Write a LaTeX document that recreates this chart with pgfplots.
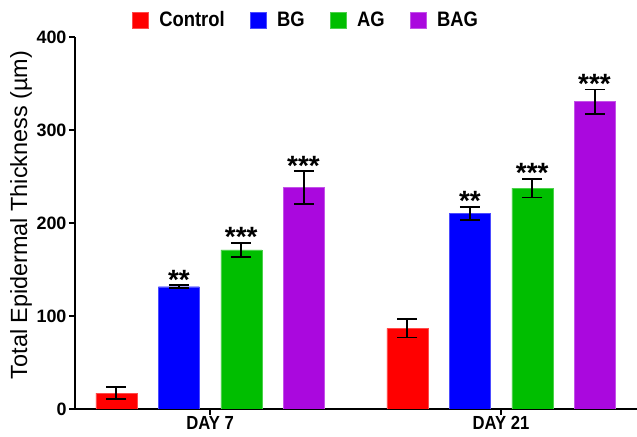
\documentclass[border=0pt]{standalone}
\usepackage{fontspec}
\setmainfont{Liberation Sans}
\newfontfamily\condfont[FakeStretch=0.88]{Liberation Sans}
\usepackage{pgfplots}
\pgfplotsset{compat=1.18}
\definecolor{cRed}{RGB}{255,0,0}
\definecolor{cBlue}{RGB}{0,0,255}
\definecolor{cGreen}{RGB}{0,190,0}
\definecolor{cPurple}{RGB}{170,8,222}
\begin{document}
\begin{tikzpicture}
\useasboundingbox (-75bp,-28bp) rectangle (562bp,409bp);
\begin{axis}[
  scale only axis, width=562bp, height=372bp,
  at={(0,0)}, anchor=south west,
  ybar=21.5bp, bar width=41bp,
  xmin=-0.464, xmax=1.467, ymin=0, ymax=400,
  axis x line=bottom, axis y line=left,
  axis line style={line width=2pt, -},
  xtick={0,1}, xticklabels={DAY 7, DAY 21},
  ytick={0,100,200,300,400},
  tick align=outside, major tick length=6bp,
  tick style={line width=2pt, black},
  x tick label style={font=\condfont\fontsize{19}{19}\selectfont\bfseries, yshift=2bp},
  y tick label style={font=\fontsize{18}{18}\selectfont\bfseries, xshift=1bp},
  /pgf/number format/assume math mode=true,
  ylabel={Total Epidermal Thickness (µm)},
  ylabel style={font=\fontsize{23.5}{23.5}\selectfont, at={(-54bp,194bp)}, anchor=center, rotate=0},
  legend style={at={(231bp,389bp)}, anchor=center, draw=none, fill=none,
    legend columns=4, font=\condfont\fontsize{21}{21}\selectfont\bfseries,
    /tikz/every even column/.append style={column sep=23bp},
    /tikz/every odd column/.append style={column sep=0bp},
    legend cell align=left},
  legend image code/.code={\fill[#1] (0bp,-8bp) rectangle (16bp,8bp);},
  error bars/error bar style={line width=1.8pt, black},
  error bars/error mark options={rotate=90, mark size=10bp, line width=1.8pt, black},
]
\addplot[fill=cRed, draw=cRed!70!white, error bars/.cd, y dir=both, y explicit]
  coordinates {(0,17) +- (0,6.5) (1,86.8) +- (0,10)};
\addplot[fill=cBlue, draw=cBlue!70!white, error bars/.cd, y dir=both, y explicit]
  coordinates {(0,131.5) +- (0,1.5) (1,210.4) +- (0,7)};
\addplot[fill=cGreen, draw=cGreen!70!white, error bars/.cd, y dir=both, y explicit]
  coordinates {(0,171) +- (0,7.5) (1,237.5) +- (0,10)};
\addplot[fill=cPurple, draw=cPurple!70!white, error bars/.cd, y dir=both, y explicit]
  coordinates {(0,238) +- (0,17.5) (1,330.5) +- (0,13)};
\legend{\hspace{9bp}Control, \hspace{9bp}BG, \hspace{9bp}AG, \hspace{9bp}BAG}
\tikzset{star/.style={font=\fontsize{28}{28}\selectfont\bfseries, anchor=base, inner sep=0pt}}
\node[star] at (axis cs:-0.107,129) {**};
\node[star] at (axis cs:0.107,174.5) {***};
\node[star] at (axis cs:0.321,251.5) {***};
\node[star] at (axis cs:0.893,213.5) {**};
\node[star] at (axis cs:1.107,243.5) {***};
\node[star] at (axis cs:1.321,339.5) {***};
\end{axis}
\end{tikzpicture}
\end{document}
